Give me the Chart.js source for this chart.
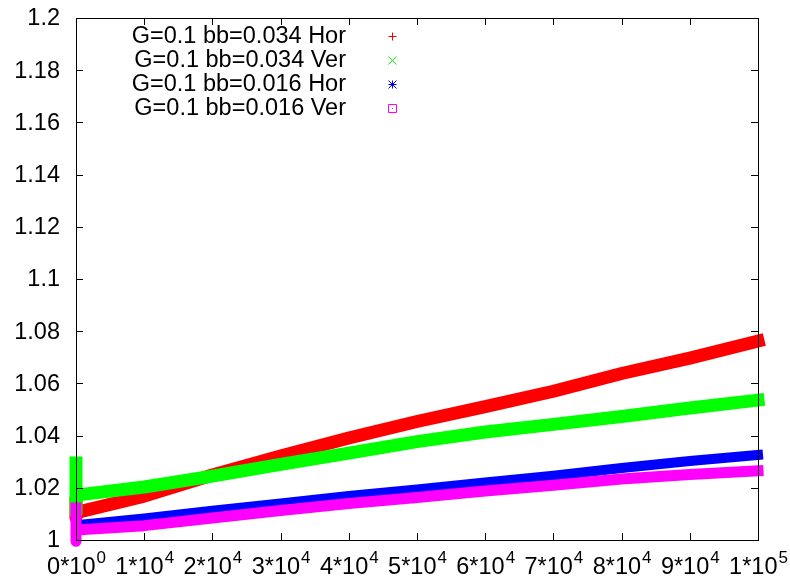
<!DOCTYPE html>
<html>
<head>
<meta charset="utf-8">
<script src="https://cdn.jsdelivr.net/npm/chart.js@4/dist/chart.umd.min.js"></script>
<style>
  html, body { margin: 0; padding: 0; background: #ffffff; }
  #wrap { width: 790px; height: 579px; }
</style>
</head>
<body>
<div id="wrap"><canvas id="c" width="790" height="579"></canvas></div>
<script>
// Time steps sampled along each run
const steps = [0, 10000, 20000, 30000, 40000, 50000, 60000, 70000, 80000, 90000, 100000];

// Ratio values at each step
const g01bb034Hor = [1.0105, 1.0168, 1.0249, 1.0322, 1.0391, 1.0454, 1.0511, 1.0570, 1.0638, 1.0697, 1.0762];
const g01bb034Ver = [1.0172, 1.0203, 1.0245, 1.0290, 1.0333, 1.0377, 1.0414, 1.0443, 1.0473, 1.0506, 1.0536];
const g01bb016Hor = [1.0057, 1.0082, 1.0112, 1.0140, 1.0169, 1.0194, 1.0220, 1.0246, 1.0276, 1.0303, 1.0326];
const g01bb016Ver = [1.0038, 1.0055, 1.0084, 1.0113, 1.0140, 1.0163, 1.0188, 1.0210, 1.0234, 1.0251, 1.0265];

// Spread of the very first samples (step 0): [high, low]
const start034Hor = [1.0140, 1.0085];
const start034Ver = [1.0295, 1.0103];
const start016Hor = [1.0110, 1.0030];
const start016Ver = [1.0123, 0.9995];

const seriesNames = ['G=0.1 bb=0.034 Hor', 'G=0.1 bb=0.034 Ver', 'G=0.1 bb=0.016 Hor', 'G=0.1 bb=0.016 Ver'];
const seriesColors = ['#ff0000', '#00ff00', '#0000ff', '#ff00ff'];
const seriesMarkers = ['plus', 'cross', 'star', 'box'];

// Axis ticks
const yTicks = [1, 1.02, 1.04, 1.06, 1.08, 1.1, 1.12, 1.14, 1.16, 1.18, 1.2];
const yTickLabels = ['1', '1.02', '1.04', '1.06', '1.08', '1.1', '1.12', '1.14', '1.16', '1.18', '1.2'];
const xTicks = [0, 10000, 20000, 30000, 40000, 50000, 60000, 70000, 80000, 90000, 100000];
const xTickMantissa = ['0', '1', '2', '3', '4', '5', '6', '7', '8', '9', '1'];
const xTickExponent = ['0', '4', '4', '4', '4', '4', '4', '4', '4', '4', '5'];

const FONT = '"Liberation Sans", Arial, Helvetica, sans-serif';
const MAIN_FONT = '23.5px ' + FONT;
const SUP_FONT = '17px ' + FONT;

function buildPoints(start, values) {
  const pts = [{ x: 0, y: start[0] }, { x: 0, y: start[1] }];
  values.forEach((v, i) => pts.push({ x: steps[i], y: v }));
  return pts;
}

const allValues = [g01bb034Hor, g01bb034Ver, g01bb016Hor, g01bb016Ver];
const allStarts = [start034Hor, start034Ver, start016Hor, start016Ver];
const widths = [13, 13, 10, 11];

const datasets = allValues.map((vals, i) => ({
  label: seriesNames[i],
  data: buildPoints(allStarts[i], vals),
  borderColor: seriesColors[i],
  backgroundColor: seriesColors[i],
  borderWidth: widths[i],
  borderCapStyle: 'square',
  borderJoinStyle: 'round',
  pointRadius: 0,
  tension: 0,
  fill: false,
  clip: false,
  order: 4 - i
}));

function drawMarker(ctx, kind, x, y, r) {
  ctx.beginPath();
  if (kind === 'plus' || kind === 'star') {
    ctx.moveTo(x - r, y); ctx.lineTo(x + r, y);
    ctx.moveTo(x, y - r); ctx.lineTo(x, y + r);
  }
  if (kind === 'cross' || kind === 'star') {
    ctx.moveTo(x - r, y - r); ctx.lineTo(x + r, y + r);
    ctx.moveTo(x - r, y + r); ctx.lineTo(x + r, y - r);
  }
  if (kind === 'box') {
    ctx.rect(x - r, y - r, 2 * r, 2 * r);
    ctx.moveTo(x - 0.5, y); ctx.lineTo(x + 0.5, y);
  }
  ctx.stroke();
}

const framePlugin = {
  id: 'frameAndLabels',
  afterDatasetsDraw(chart) {
    const ctx = chart.ctx;
    const a = chart.chartArea;
    const xs = chart.scales.x, ys = chart.scales.y;
    const tick = 7;
    ctx.save();
    ctx.strokeStyle = '#000000';
    ctx.lineWidth = 1;
    // border
    ctx.strokeRect(Math.round(a.left) + 0.5, Math.round(a.top) + 0.5,
                   Math.round(a.right - a.left), Math.round(a.bottom - a.top));
    // tick marks, mirrored on both sides
    ctx.beginPath();
    yTicks.forEach(v => {
      const py = Math.round(ys.getPixelForValue(v)) + 0.5;
      ctx.moveTo(a.left, py); ctx.lineTo(a.left + tick, py);
      ctx.moveTo(a.right, py); ctx.lineTo(a.right - tick, py);
    });
    xTicks.forEach(v => {
      const px = Math.round(xs.getPixelForValue(v)) + 0.5;
      ctx.moveTo(px, a.bottom); ctx.lineTo(px, a.bottom - tick);
      ctx.moveTo(px, a.top); ctx.lineTo(px, a.top + tick);
    });
    ctx.stroke();

    // y tick labels
    ctx.fillStyle = '#000000';
    ctx.font = MAIN_FONT;
    ctx.textAlign = 'right';
    ctx.textBaseline = 'middle';
    yTicks.forEach((v, i) => {
      ctx.fillText(yTickLabels[i], 60, ys.getPixelForValue(v) + 1);
    });

    // x tick labels with superscript exponent
    ctx.textAlign = 'left';
    ctx.textBaseline = 'alphabetic';
    xTicks.forEach((v, i) => {
      const main = xTickMantissa[i] + '*10';
      const sup = xTickExponent[i];
      ctx.font = MAIN_FONT;
      const w1 = ctx.measureText(main).width;
      ctx.font = SUP_FONT;
      const w2 = ctx.measureText(sup).width;
      const x0 = xs.getPixelForValue(v) - (w1 + w2) / 2;
      ctx.font = MAIN_FONT;
      ctx.fillText(main, x0, 574);
      ctx.font = SUP_FONT;
      ctx.fillText(sup, x0 + w1 + 1, 563);
    });

    // key
    ctx.font = MAIN_FONT;
    ctx.textAlign = 'right';
    ctx.textBaseline = 'middle';
    const rowY = [36, 60, 84, 108];
    seriesNames.forEach((name, i) => {
      ctx.fillStyle = '#000000';
      ctx.fillText(name, 346, rowY[i] + 1);
      ctx.strokeStyle = seriesColors[i];
      ctx.lineWidth = 1;
      drawMarker(ctx, seriesMarkers[i], 392.5, rowY[i] + 0.5, 4);
    });
    ctx.restore();
  }
};

new Chart(document.getElementById('c'), {
  type: 'line',
  data: { datasets },
  options: {
    responsive: false,
    devicePixelRatio: 1,
    animation: false,
    layout: { padding: { left: 76, top: 18, right: 32, bottom: 39 } },
    plugins: { legend: { display: false }, tooltip: { enabled: false } },
    scales: {
      x: { type: 'linear', min: 0, max: 100000, display: false },
      y: { type: 'linear', min: 1, max: 1.2, display: false }
    }
  },
  plugins: [framePlugin]
});
</script>
</body>
</html>
